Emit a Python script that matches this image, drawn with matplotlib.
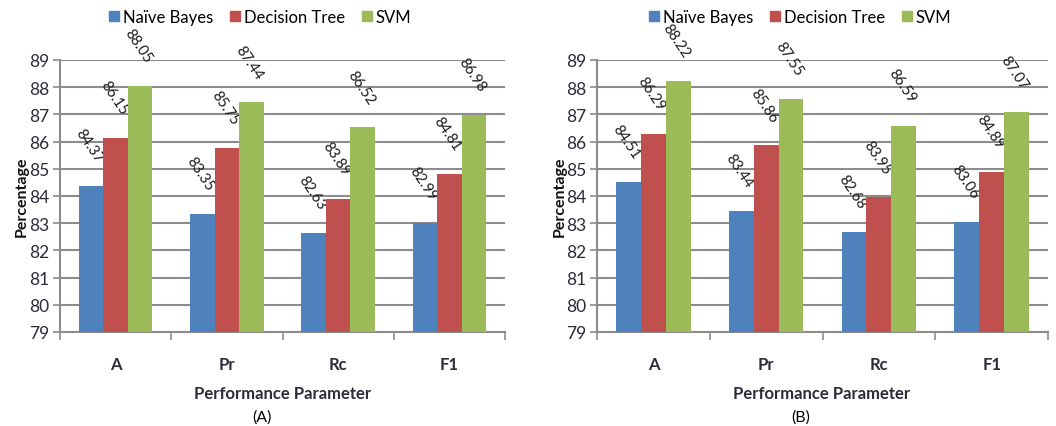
import numpy as np
import matplotlib.pyplot as plt
from matplotlib.patches import Patch

plt.rcParams['font.family'] = ['Lato', 'DejaVu Sans']

params = ['A', 'Pr', 'Rc', 'F1']
models = ['Naïve Bayes', 'Decision Tree', 'SVM']
colors = ['#4F81BD', '#C0504D', '#9BBB59']

# scores for panel (A)
nb_a = [84.37, 83.35, 82.63, 82.99]
dt_a = [86.15, 85.75, 83.89, 84.81]
svm_a = [88.05, 87.44, 86.52, 86.98]

# scores for panel (B)
nb_b = [84.51, 83.44, 82.68, 83.06]
dt_b = [86.29, 85.86, 83.95, 84.89]
svm_b = [88.22, 87.55, 86.59, 87.07]

grid_col = '#8C8C8C'
tick_col = '#2B2B3A'


def draw_panel(ax, series):
    x = np.arange(len(params))
    w = 0.22
    for i, vals in enumerate(series):
        pos = x + (i - 1) * w
        ax.bar(pos, np.array(vals) - 79, w, bottom=79, color=colors[i], zorder=3)
        for p, v in zip(pos, vals):
            ax.annotate(f'{v:.2f}', xy=(p, v), xytext=(-2, 21), textcoords='offset pixels',
                        ha='center', va='bottom', rotation=-56, fontsize=10.5,
                        color='#1A1A1A', annotation_clip=False)
    ax.set_ylim(79, 89)
    ax.set_xlim(-0.5, 3.5)
    ax.set_yticks(range(79, 90))
    ax.yaxis.grid(True, color=grid_col, linewidth=1.5, zorder=0)
    ax.set_xticks(np.arange(-0.5, 4, 1))
    ax.set_xticklabels([])
    ax.set_xticks(x, minor=True)
    ax.set_xticklabels(params, minor=True, fontweight='bold', fontsize=12, color=tick_col)
    ax.tick_params(axis='x', which='major', length=6, width=1.2, color=grid_col)
    ax.tick_params(axis='x', which='minor', length=0, pad=17)
    ax.tick_params(axis='y', length=5, width=1.2, color=grid_col, labelsize=12.5,
                   labelcolor=tick_col, pad=3)
    for s in ['top', 'right']:
        ax.spines[s].set_visible(False)
    for s in ['left', 'bottom']:
        ax.spines[s].set_color(grid_col)
        ax.spines[s].set_linewidth(1.5)


fig = plt.figure(figsize=(10.56, 4.27), dpi=100)
ax1 = fig.add_axes([60 / 1056, 1 - 333 / 427, 445 / 1056, 272 / 427])
ax2 = fig.add_axes([597 / 1056, 1 - 333 / 427, 451 / 1056, 272 / 427])

draw_panel(ax1, [nb_a, dt_a, svm_a])
draw_panel(ax2, [nb_b, dt_b, svm_b])

handles = [Patch(color=c) for c in colors]
for cx, ycx, xlx, tag in [(260, 22, 283, '(A)'), (800, 560, 822, '(B)')]:
    fig.legend(handles, models, loc='center', bbox_to_anchor=(cx / 1056, 1 - 18 / 427),
               ncol=3, frameon=False, fontsize=12, handlelength=0.6, handleheight=0.6,
               handletextpad=0.25, columnspacing=1.0, borderaxespad=0)
    fig.text(ycx / 1056, 1 - 197 / 427, 'Percentage', rotation=90, ha='center', va='center',
             fontsize=11.5, fontweight='bold', color='#111111')
    fig.text(xlx / 1056, 1 - 394 / 427, 'Performance Parameter', ha='center', va='center',
             fontsize=12, fontweight='bold', color=tick_col)
    fig.text((xlx - 21) / 1056, 1 - 418 / 427, tag, ha='center', va='center', fontsize=11.5)

fig.savefig('out.png', dpi=100)
